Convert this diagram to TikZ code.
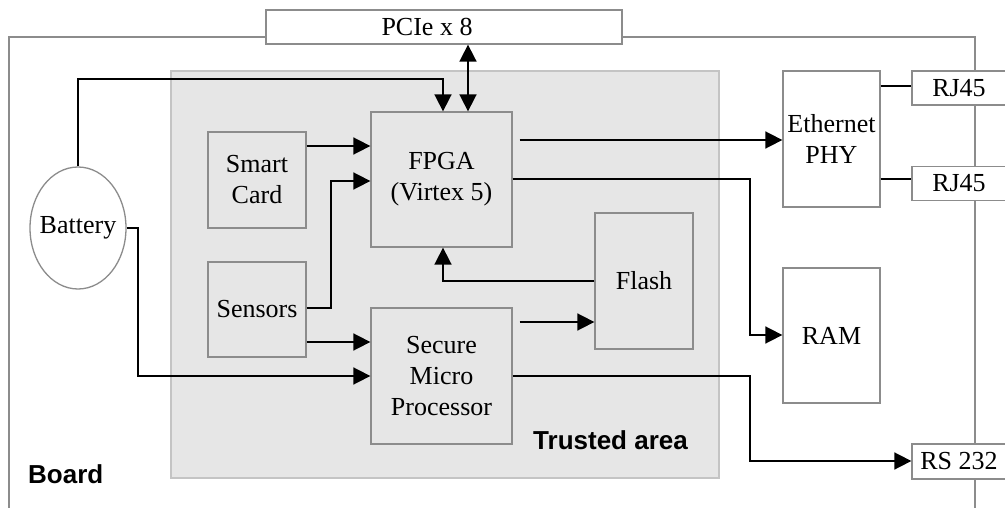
\documentclass[tikz,border=0pt]{standalone}
\usepackage{fontspec}
\setmainfont{Liberation Serif}
\setsansfont{Liberation Sans}
\usetikzlibrary{arrows.meta,shapes.geometric}
\definecolor{boxgray}{HTML}{8C8C8C}
\definecolor{areafill}{HTML}{E6E6E6}
\definecolor{areaborder}{HTML}{C4C4C4}
\tikzset{
  blk/.style={draw=boxgray, line width=1.3pt, inner sep=0pt, align=center,
    font=\fontsize{26}{31}\selectfont},
  inbox/.style={blk, fill=areafill},
  outbox/.style={blk, fill=white},
  boardline/.style={draw=boxgray, line width=1.3pt},
  conn/.style={draw=black, line width=1.7pt},
  arr/.style={conn, -{Triangle[length=17pt,width=17pt]}},
  arrtwo/.style={conn, {Triangle[length=17pt,width=17pt]}-{Triangle[length=17pt,width=17pt]}},
  lbl/.style={font=\sffamily\bfseries\fontsize{26}{31}\selectfont, inner sep=0pt, anchor=base west}
}
\begin{document}
\begin{tikzpicture}[x=1pt,y=-1pt]
\useasboundingbox (0,0) rectangle (1005,508);
% trusted area
\node[draw=areaborder, fill=areafill, line width=1.3pt, minimum width=548pt, minimum height=407pt, inner sep=0pt] (ta) at (445,274.5) {};
\node[lbl] (talbl) at (533,449) {Trusted area};
% board
\node[outbox, minimum width=356pt, minimum height=34pt] (pcie) at (444,27) {};
\node[blk, draw=none, inner sep=0pt] (pcietxt) at (427,27) {PCIe x 8};
\draw[boardline] (pcie.west |- 0,37) -- (9,37) -- (9,508);
\draw[boardline] (pcie.east |- 0,37) -- (975,37) -- (975,508);
\node[lbl] (boardlbl) at (28,483) {Board};
% blocks
\node[inbox, minimum width=98pt, minimum height=96pt] (sc) at (257,180) {Smart\\Card};
\node[inbox, minimum width=141pt, minimum height=135pt] (fpga) at (441.5,179.5) {FPGA\\(Virtex 5)};
\node[inbox, minimum width=98pt, minimum height=95pt] (sens) at (257,309.5) {Sensors};
\node[inbox, minimum width=141pt, minimum height=136pt] (smp) at (441.5,376) {Secure\\Micro\\Processor};
\node[inbox, minimum width=98pt, minimum height=136pt] (flash) at (644,281) {Flash};
\node[ellipse, draw=boxgray, fill=white, line width=1.3pt, minimum width=96pt, minimum height=122pt, inner sep=0pt] (bat) at (78,228) {};
\node[blk, draw=none] (battxt) at (bat.center) {Battery};
\node[outbox, minimum width=97pt, minimum height=136pt] (eth) at (831.5,139) {Ethernet\\PHY};
\node[outbox, minimum width=97pt, minimum height=135pt] (ram) at (831.5,335.5) {RAM};
\node[outbox, minimum width=94pt, minimum height=34pt] (rja) at (959,88) {RJ45};
\node[outbox, minimum width=94pt, minimum height=34pt] (rjb) at (959,183.5) {RJ45};
\node[outbox, minimum width=94pt, minimum height=35pt] (rs) at (959,461.5) {RS 232};
% connectors
\draw[arr] (bat.north) |- (443,79) -- (fpga.north -| 443,0);
\draw[arrtwo] (pcie.south -| 468,0) -- (fpga.north -| 468,0);
\draw[arr] (sc.east |- 0,146) -- (fpga.west |- 0,146);
\draw[arr] (sens.east |- 0,308) -| (331,181) -- (fpga.west |- 0,181);
\draw[arr] (sens.east |- 0,342) -- (smp.west |- 0,342);
\draw[arr] (bat.east |- 0,228) -| (138,376) -- (smp.west |- 0,376);
\draw[arr] (flash.west |- 0,281) -| (fpga.south -| 443,0);
\coordinate (smpout) at ([xshift=7pt]smp.east |- 0,322);
\draw[arr] (smpout) -- (flash.west |- 0,322);
\coordinate (fpgaout) at ([xshift=7pt]fpga.east |- 0,140);
\draw[arr] (fpgaout) -- (eth.west |- 0,140);
\draw[arr] (fpga.east |- 0,179) -| (750,335) -- (ram.west |- 0,335);
\draw[arr] (smp.east |- 0,376) -| (750,461) -- (rs.west |- 0,461);
\draw[conn] (eth.east |- 0,86) -- (rja.west |- 0,86);
\draw[conn] (eth.east |- 0,179) -- (rjb.west |- 0,179);
\end{tikzpicture}
\end{document}
